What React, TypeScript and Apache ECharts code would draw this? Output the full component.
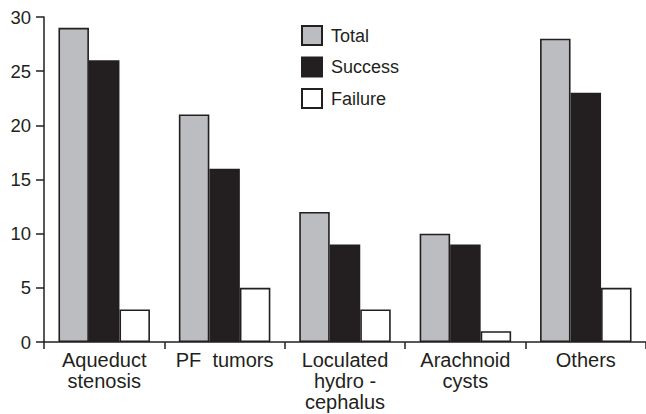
import React, { useEffect, useRef } from "react";
import * as echarts from "echarts";

const categories = ["Aqueduct\nstenosis", "PF  tumors", "Loculated\nhydro -\ncephalus", "Arachnoid\ncysts", "Others"];
const totalValues = [29, 21, 12, 10, 28];
const successValues = [26, 16, 9, 9, 23];
const failureValues = [3, 5, 3, 1, 5];
const yTicks = [0, 5, 10, 15, 20, 25, 30];

const ink = "#231f20";
const font = "Liberation Sans, Arial, sans-serif";

export default function App() {
  const ref = useRef<HTMLDivElement>(null);
  useEffect(() => {
    if (!ref.current) return;
    const chart = echarts.init(ref.current, null, { renderer: "svg" });
    const barStyle = (color: string) => ({ color, borderColor: ink, borderWidth: 1.6 });
    chart.setOption({
      animation: false,
      backgroundColor: "#ffffff",
      textStyle: { fontFamily: font },
      grid: { left: 44, top: 17, width: 605, height: 325 },
      legend: {
        orient: "vertical",
        left: 296,
        top: 20,
        itemWidth: 20,
        itemHeight: 19,
        itemGap: 10.5,
        icon: "rect",
        textStyle: { fontSize: 18, color: ink, fontFamily: font, padding: [0, 0, 0, 4] },
        data: ["Total", "Success", "Failure"],
      },
      xAxis: {
        type: "category",
        data: categories,
        axisLine: { lineStyle: { color: ink, width: 1.5 } },
        axisTick: { show: true, length: 7, lineStyle: { color: ink, width: 1.5 } },
        axisLabel: { fontSize: 20, color: ink, lineHeight: 21, margin: 7, fontFamily: font, interval: 0 },
      },
      yAxis: {
        type: "value",
        min: yTicks[0],
        max: yTicks[yTicks.length - 1],
        interval: 5,
        splitLine: { show: false },
        axisLine: { show: true, lineStyle: { color: ink, width: 1.5 } },
        axisTick: { show: true, length: 8, lineStyle: { color: ink, width: 1.5 } },
        axisLabel: { fontSize: 18.5, color: ink, margin: 13, fontFamily: font },
      },
      series: [
        { name: "Total", type: "bar", data: totalValues, barGap: "0%", barCategoryGap: "24%", itemStyle: barStyle("#bcbdc1") },
        { name: "Success", type: "bar", data: successValues, barGap: "0%", barCategoryGap: "24%", itemStyle: barStyle(ink) },
        { name: "Failure", type: "bar", data: failureValues, barGap: "0%", barCategoryGap: "24%", itemStyle: barStyle("#ffffff") },
      ],
    });
    return () => chart.dispose();
  }, []);
  return <div ref={ref} style={{ width: 646, height: 414, position: "absolute", left: 0, top: 0 }} />;
}
